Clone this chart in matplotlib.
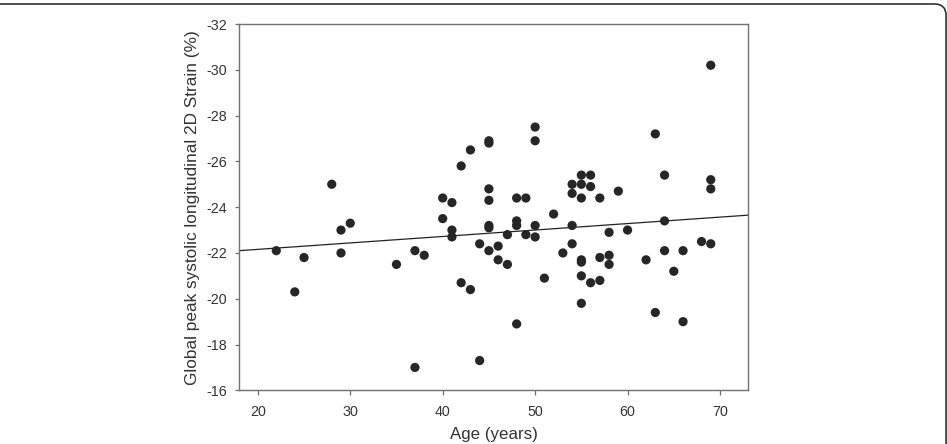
import matplotlib
matplotlib.use("Agg")
import matplotlib.pyplot as plt
from matplotlib.patches import FancyBboxPatch
import numpy as np

plt.rcParams['font.family'] = ['Liberation Sans', 'DejaVu Sans']

age = [22, 24, 25, 28, 29, 29, 30, 35, 37, 37, 38,
       40, 40, 41, 41, 41, 42, 42, 43, 43, 44, 44,
       45, 45, 45, 45, 45, 45, 45, 46, 46, 47, 47,
       48, 48, 48, 48, 49, 49, 50, 50, 50, 50, 51, 52, 53,
       54, 54, 54, 54, 55, 55, 55, 55, 55, 55, 55,
       56, 56, 56, 57, 57, 57, 58, 58, 58, 59, 60, 62,
       63, 63, 64, 64, 64, 65, 66, 66, 68, 69, 69, 69, 69]
strain = [-22.1, -20.3, -21.8, -25.0, -23.0, -22.0, -23.3, -21.5, -22.1, -17.0, -21.9,
          -24.4, -23.5, -24.2, -23.0, -22.7, -25.8, -20.7, -26.5, -20.4, -22.4, -17.3,
          -26.9, -26.8, -24.8, -24.3, -23.2, -23.1, -22.1, -22.3, -21.7, -22.8, -21.5,
          -24.4, -23.4, -23.2, -18.9, -24.4, -22.8, -27.5, -26.9, -23.2, -22.7, -20.9, -23.7, -22.0,
          -25.0, -24.6, -23.2, -22.4, -25.4, -25.0, -24.4, -21.7, -21.6, -21.0, -19.8,
          -25.4, -24.9, -20.7, -24.4, -21.8, -20.8, -22.9, -21.9, -21.5, -24.7, -23.0, -21.7,
          -27.2, -19.4, -25.4, -23.4, -22.1, -21.2, -22.1, -19.0, -22.5, -30.2, -25.2, -24.8, -22.4]

fit_age = [18, 73]
fit_strain = [-22.1, -23.65]

x_ticks = [20, 30, 40, 50, 60, 70]
y_ticks = [-32, -30, -28, -26, -24, -22, -20, -18, -16]

fig = plt.figure(figsize=(9.47, 4.44), dpi=100)
ax = fig.add_axes([0.2527, 0.1209, 0.5369, 0.825])

ax.scatter(age, strain, s=44, color='#262626', edgecolors='none', zorder=3)
ax.plot(fit_age, fit_strain, color='#222222', lw=0.9, zorder=2)

ax.set_xlim(18, 73)
ax.set_ylim(-16, -32)
ax.set_xticks(x_ticks)
ax.set_yticks(y_ticks)
ax.set_yticklabels([str(v) for v in y_ticks])

for s in ax.spines.values():
    s.set_color('#707070')
    s.set_linewidth(1.0)

ax.tick_params(axis='x', direction='out', length=3.3, width=0.9, color='#707070',
               pad=7.5, labelsize=10.3, labelcolor='#333333')
ax.tick_params(axis='y', direction='out', length=3.2, width=0.9, color='#707070',
               pad=5.5, labelsize=10.3, labelcolor='#333333')

ax.set_xlabel('Age (years)', fontsize=12.2, color='#333333', labelpad=5.5)
ax.set_ylabel('Global peak systolic longitudinal 2D Strain (%)', fontsize=12.4,
              color='#333333', labelpad=4.5)

border = FancyBboxPatch((-0.05, -0.2), 1.049, 1.191, boxstyle='round,pad=0,rounding_size=0.012',
                        transform=fig.transFigure, facecolor='none', edgecolor='#333333',
                        lw=1.2, mutation_aspect=947/444)
fig.patches.append(border)

fig.savefig('out.png', dpi=100)
